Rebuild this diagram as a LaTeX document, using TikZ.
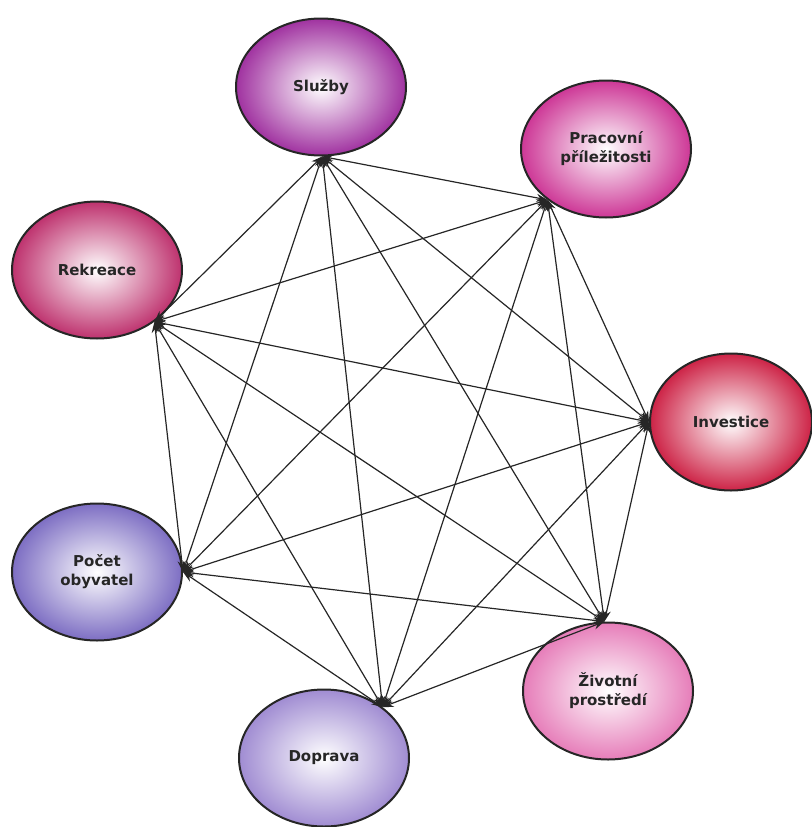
\documentclass[tikz,border=0pt]{standalone}
\usepackage{fontspec}
\setsansfont{DejaVu Sans}
\usepackage{tikz}
\usetikzlibrary{shapes.geometric, arrows.meta}
\definecolor{cSluzby}{RGB}{160,50,160}
\definecolor{cPrace}{RGB}{205,55,150}
\definecolor{cRekreace}{RGB}{190,50,110}
\definecolor{cInvestice}{RGB}{205,35,70}
\definecolor{cPocet}{RGB}{125,110,195}
\definecolor{cDoprava}{RGB}{160,140,210}
\definecolor{cZivotni}{RGB}{230,125,185}
\tikzstyle{arrow} = [<->,>={Stealth[length=11pt,width=8pt]},line width=1.2pt,black!85]

\begin{document}
\begin{tikzpicture}[x=1pt,y=-1pt,
			main node/.style={ellipse, minimum width=170pt, minimum height=137pt, inner sep=0pt, text centered, align=center, draw=black!85, line width=2pt, inner color=white, text=black!85, font=\sffamily\bfseries\fontsize{15}{19}\selectfont}]
			\useasboundingbox (0,0) rectangle (811,827);

			\node[main node,outer color=cSluzby] (S) at (321,87) {Služby};
			\node[main node,outer color=cPrace] (P) at (606,149) {Pracovní\\příležitosti};
			\node[main node,outer color=cRekreace] (R) at (97,270) {Rekreace};
			\node[main node,outer color=cInvestice,minimum width=162pt] (I) at (731,422) {Investice};
			\node[main node,outer color=cPocet] (O) at (97,572) {Počet\\obyvatel};
			\node[main node,outer color=cDoprava] (D) at (324,758) {Doprava};
			\node[main node,outer color=cZivotni] (Z) at (608,691) {Životní\\prostředí};

			% each node is joined to every other one
			\draw[arrow] (S.-89) -- (P.221);
			\draw[arrow] (S.-89) -- (R.-42);
			\draw[arrow] (S.-89) -- (I.180);
			\draw[arrow] (S.-89) -- (O.0);
			\draw[arrow] (S.-89) -- (D.41);
			\draw[arrow] (S.-89) -- (Z.93);

			\draw[arrow] (P.221) -- (R.-42);
			\draw[arrow] (P.221) -- (I.180);
			\draw[arrow] (P.221) -- (O.0);
			\draw[arrow] (P.221) -- (D.41);
			\draw[arrow] (P.221) -- (Z.93);

			\draw[arrow] (R.-42) -- (I.180);
			\draw[arrow] (R.-42) -- (O.0);
			\draw[arrow] (R.-42) -- (D.41);
			\draw[arrow] (R.-42) -- (Z.93);

			\draw[arrow] (I.180) -- (O.0);
			\draw[arrow] (I.180) -- (D.41);
			\draw[arrow] (I.180) -- (Z.93);

			\draw[arrow] (O.0) -- (D.41);
			\draw[arrow] (O.0) -- (Z.93);

			\draw[arrow] (D.41) -- (Z.93);

\end{tikzpicture}
\end{document}
